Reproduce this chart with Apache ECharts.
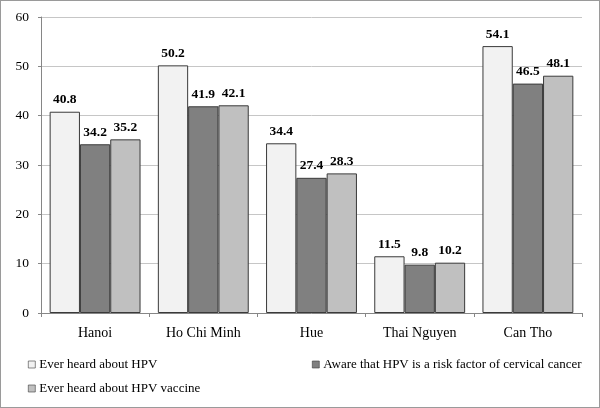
<!DOCTYPE html>
<html><head><meta charset="utf-8">
<script src="https://cdn.jsdelivr.net/npm/echarts@6/dist/echarts.min.js"></script>
<style>html,body{margin:0;padding:0;background:#fff}#c{width:600px;height:408px;box-sizing:border-box;border:1px solid #9a9a9a}</style>
</head><body><div id="c"></div>
<script>
const categories = ['Hanoi', 'Ho Chi Minh', 'Hue', 'Thai Nguyen', 'Can Tho'];
const seriesNames = ['Ever heard about HPV', 'Aware that HPV is a risk factor of cervical cancer', 'Ever heard about HPV vaccine'];
const everHeard = [40.8, 50.2, 34.4, 11.5, 54.1];
const awareRisk = [34.2, 41.9, 27.4, 9.8, 46.5];
const heardVaccine = [35.2, 42.1, 28.3, 10.2, 48.1];
const yTicks = [0, 10, 20, 30, 40, 50, 60];

const colors = ['#f2f2f2', '#808080', '#c0c0c0'];
const font = 'Liberation Serif';
const chart = echarts.init(document.getElementById('c'), null, {renderer: 'canvas'});
const values = [everHeard, awareRisk, heardVaccine];
const mkSeries = (i) => ({
  name: seriesNames[i], type: 'bar', data: values[i],
  barGap: '0%', barCategoryGap: '16%',
  itemStyle: {color: colors[i], borderColor: '#3a3a3a', borderWidth: 1},
  label: {show: true, position: 'top', distance: 5, color: '#000', fontFamily: font, fontWeight: 'bold', fontSize: 13.5,
          formatter: p => p.value.toFixed(1)},
  emphasis: {disabled: true}, animation: false
});
const legendBase = {icon: 'rect', itemWidth: 7, itemHeight: 7, itemGap: 0,
  itemStyle: {borderWidth: 0.6, borderColor: '#3a3a3a'},
  textStyle: {fontFamily: font, fontSize: 13, color: '#000', padding: [0, 0, 0, -1]}, selectedMode: false, padding: 0};
chart.setOption({
  animation: false,
  grid: {left: 40, right: 17, top: 16, bottom: 94},
  legend: [
    Object.assign({}, legendBase, {data: [seriesNames[0]], left: 27, top: 357}),
    Object.assign({}, legendBase, {data: [seriesNames[1]], left: 311, top: 357}),
    Object.assign({}, legendBase, {data: [seriesNames[2]], left: 27, top: 381})
  ],
  xAxis: {type: 'category', data: categories,
    axisLine: {lineStyle: {color: '#868686'}},
    axisTick: {show: true, length: 4, lineStyle: {color: '#868686'}},
    axisLabel: {fontFamily: font, fontSize: 14, color: '#000', margin: 13}},
  yAxis: {type: 'value', min: yTicks[0], max: yTicks[yTicks.length - 1], interval: 10,
    axisLine: {show: true, lineStyle: {color: '#868686'}},
    axisTick: {show: true, length: 3, lineStyle: {color: '#868686'}},
    splitLine: {lineStyle: {color: '#c6c6c6'}},
    axisLabel: {fontFamily: font, fontSize: 13.5, color: '#000', margin: 12}},
  series: [0, 1, 2].map(mkSeries)
});
</script></body></html>
